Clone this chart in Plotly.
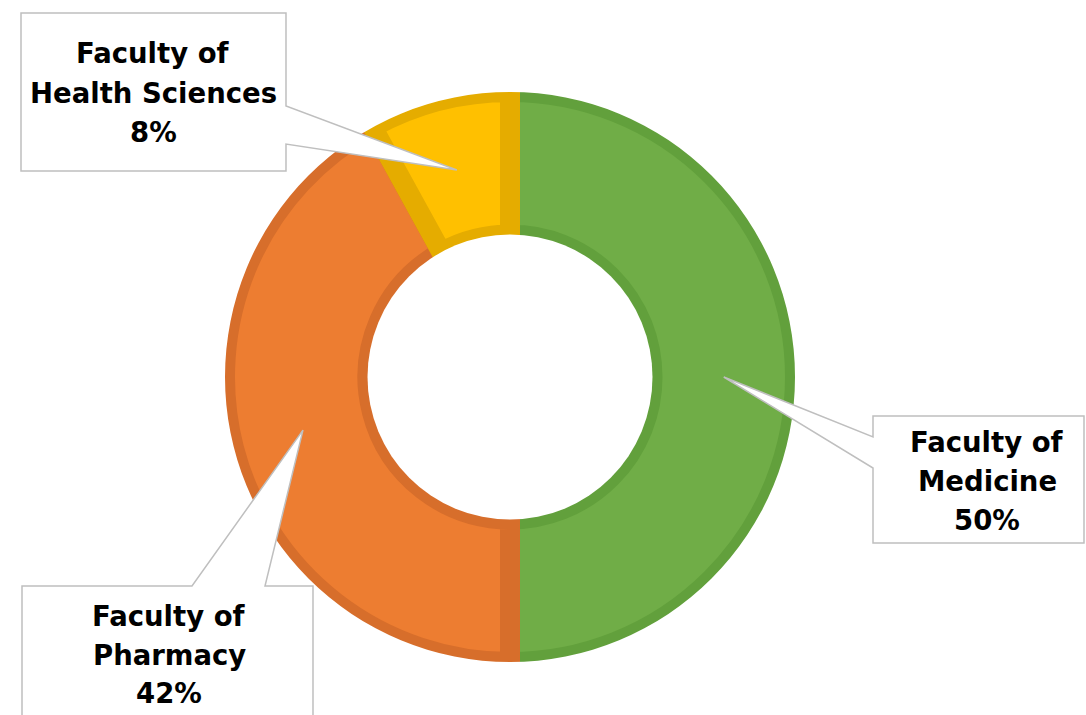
import plotly.graph_objects as go
import math

# ---- data ----
faculties = ["Faculty of Medicine", "Faculty of Pharmacy", "Faculty of Health Sciences"]
label_lines = [["Faculty of", "Medicine"], ["Faculty of", "Pharmacy"], ["Faculty of", "Health Sciences"]]
shares = [50, 42, 8]
fill_colors = ["#70AD47", "#ED7D31", "#FFC000"]
edge_colors = ["#62A03C", "#D76E2B", "#E5AC00"]

# ---- layout constants (pixels) ----
W, H = 1086, 715
CX, CY = 510, 377
R_OUT = 285
HOLE = 0.5
BORDER = 20

def px(x):
    return x / W

def py(y):
    return 1 - y / H

def dom(r):
    return dict(x=[px(CX - r), px(CX + r)], y=[py(CY + r), py(CY - r)])

fig = go.Figure()
fig.add_trace(go.Pie(
    labels=faculties, values=shares, sort=False, direction="clockwise", rotation=0,
    hole=HOLE, domain=dom(R_OUT), textinfo="none", showlegend=False,
    marker=dict(colors=fill_colors, line=dict(color=edge_colors, width=BORDER)),
))
# white masks to keep the inner borders inside the ring
fig.add_trace(go.Pie(
    values=[1], labels=["mask_out"], hole=R_OUT / (R_OUT + 15), domain=dom(R_OUT + 15),
    textinfo="none", showlegend=False, hoverinfo="skip", sort=False,
    marker=dict(colors=["white"], line=dict(width=0)),
))
fig.add_trace(go.Pie(
    values=[1], labels=["mask_in"], hole=0, domain=dom(R_OUT * HOLE),
    textinfo="none", showlegend=False, hoverinfo="skip", sort=False,
    marker=dict(colors=["white"], line=dict(width=0)),
))

# pointer tips computed from the data (mid angle of each slice)
total = sum(shares)
tips = []
cum = 0
for v in shares:
    th = 2 * math.pi * (cum + v / 2) / total
    r = 0.75 * R_OUT
    tips.append((CX + r * math.sin(th), CY - r * math.cos(th)))
    cum += v

# callout boxes: (left, top, right, bottom), pointer side, pointer base (a, b)
boxes = [
    ((873, 416, 1084, 543), "left", (437, 468), 987, [442, 481, 520]),
    ((22, 586, 313, 730), "top", (192, 265), 169, [616, 655, 693]),
    ((21, 13, 286, 171), "right", (106, 144), 153, [53, 93, 132]),
]

shapes = []
annotations = []
for i, (box, side, base, tx, tys) in enumerate(boxes):
    l, t, r, b = box
    tipx, tipy = tips[i]
    if side == "left":
        pts = [(l, t), (r, t), (r, b), (l, b), (l, base[1]), (tipx, tipy), (l, base[0])]
    elif side == "right":
        pts = [(l, t), (r, t), (r, base[0]), (tipx, tipy), (r, base[1]), (r, b), (l, b)]
    else:
        pts = [(l, t), (base[0], t), (tipx, tipy), (base[1], t), (r, t), (r, b), (l, b)]
    path = "M " + " L ".join(f"{px(x):.5f},{py(y):.5f}" for x, y in pts) + " Z"
    shapes.append(dict(type="path", xref="paper", yref="paper", path=path,
                       fillcolor="white", line=dict(color="#BFBFBF", width=1.5), layer="above"))
    lines = label_lines[i] + [f"{shares[i]}%"]
    for txt, ty in zip(lines, tys):
        annotations.append(dict(x=px(tx), y=py(ty), xref="paper", yref="paper",
                                text=f"<b>{txt}</b>", showarrow=False,
                                xanchor="center", yanchor="middle",
                                font=dict(family="DejaVu Sans", size=27.5, color="black")))

fig.update_layout(
    width=W, height=H, margin=dict(l=0, r=0, t=0, b=0),
    paper_bgcolor="white", plot_bgcolor="white",
    shapes=shapes, annotations=annotations, showlegend=False,
)
fig.write_html("out.html", config={"displayModeBar": False},
               post_script="document.body.style.margin='0';document.body.style.overflow='hidden';")
